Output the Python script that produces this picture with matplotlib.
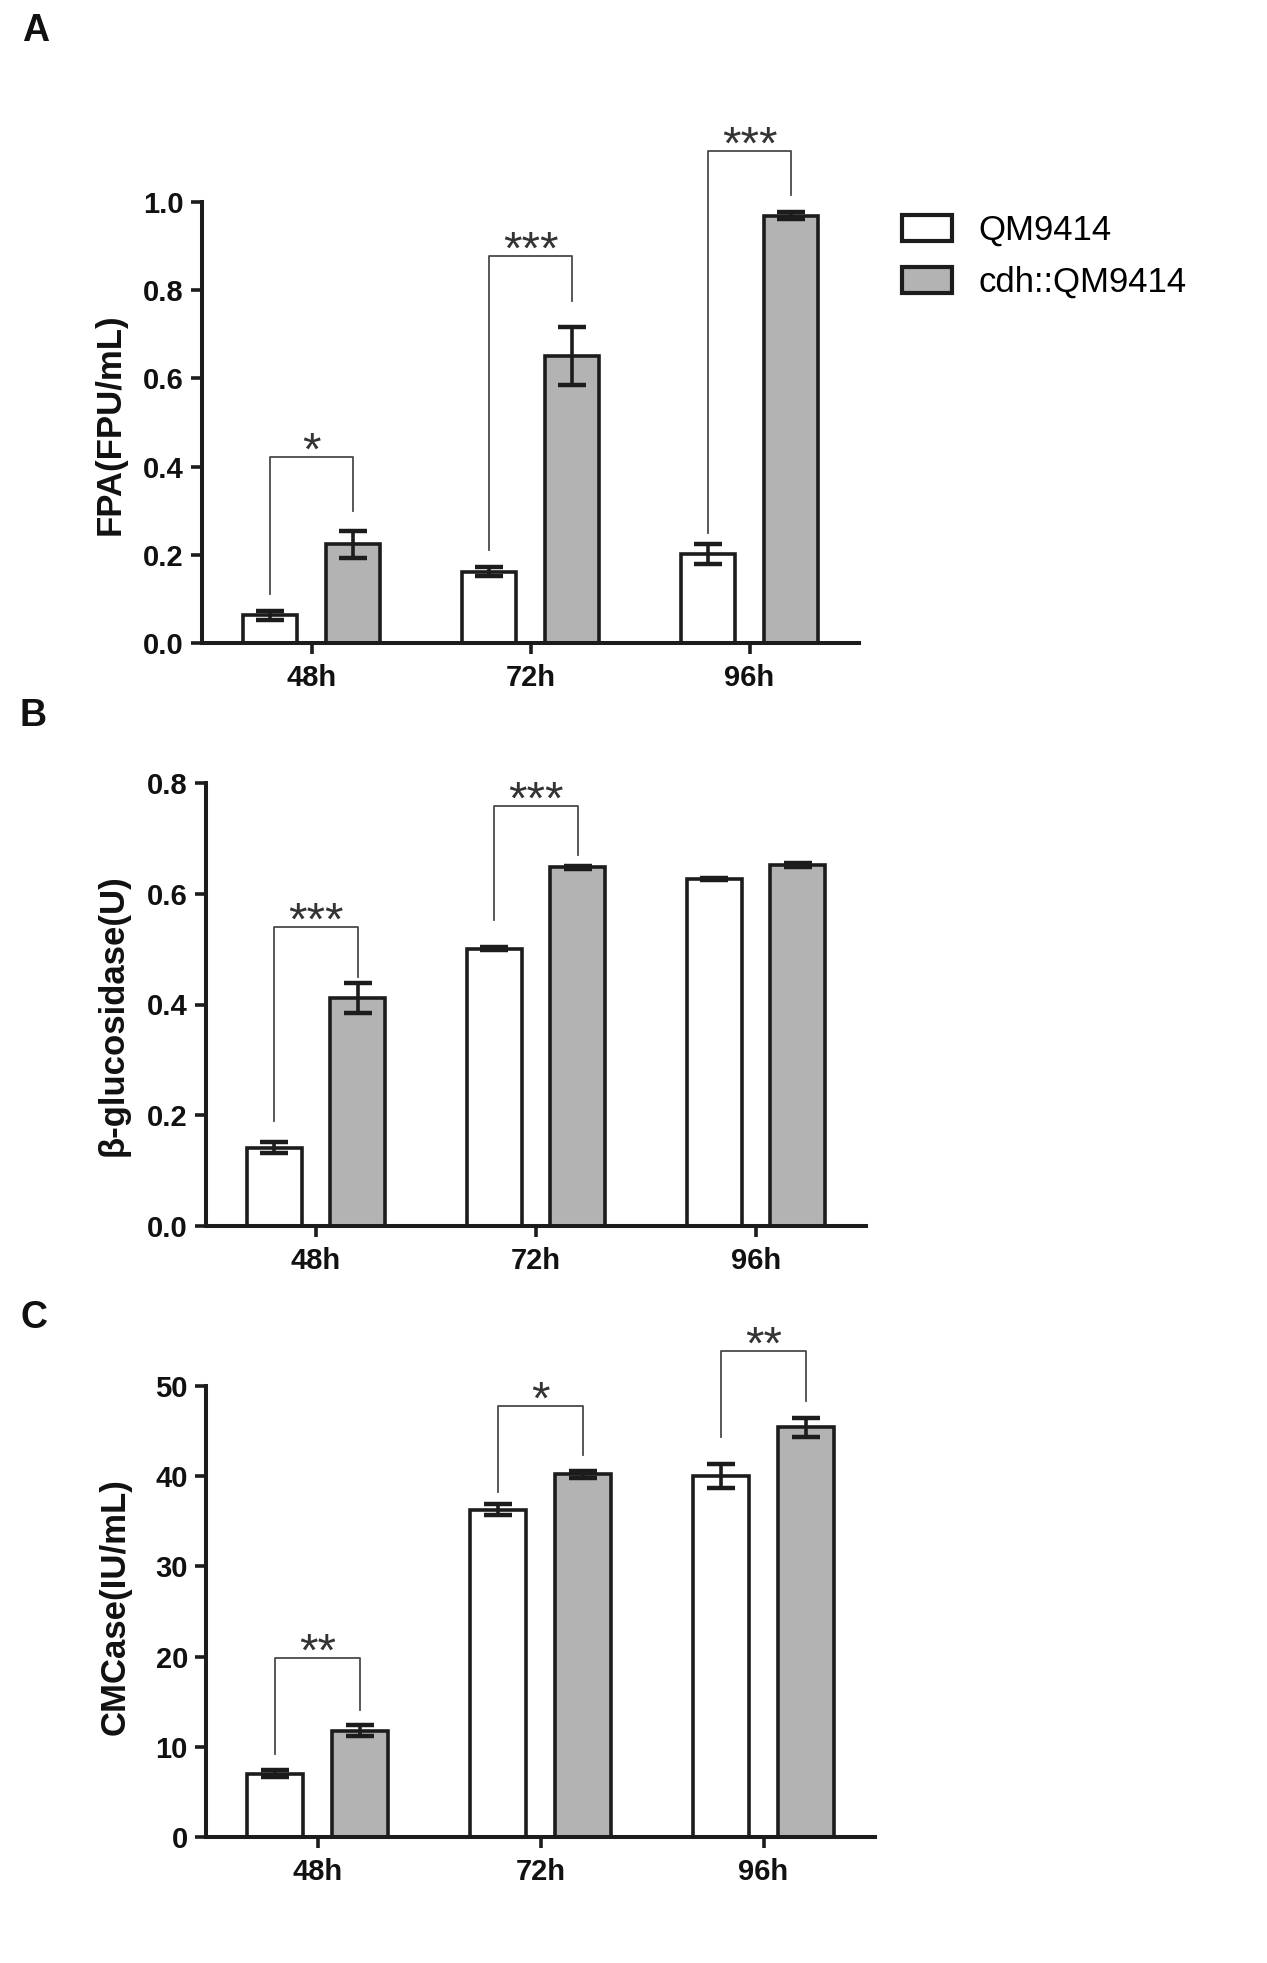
import matplotlib
matplotlib.use('Agg')
import matplotlib.pyplot as plt
import numpy as np
from matplotlib.patches import Patch

plt.rcParams['font.family'] = ['Liberation Sans', 'DejaVu Sans']

W, H, DPI = 1267, 1963, 100

# ---------------- data ----------------
times = ['48h', '72h', '96h']
strains = ['QM9414', 'cdh::QM9414']

fpa_wt = [0.063, 0.162, 0.202]
fpa_wt_err = [0.010, 0.010, 0.023]
fpa_cdh = [0.224, 0.651, 0.969]
fpa_cdh_err = [0.031, 0.065, 0.008]

bgl_wt = [0.141, 0.501, 0.627]
bgl_wt_err = [0.010, 0.002, 0.002]
bgl_cdh = [0.412, 0.648, 0.652]
bgl_cdh_err = [0.027, 0.003, 0.003]

cmc_wt = [7.0, 36.3, 40.0]
cmc_wt_err = [0.4, 0.6, 1.3]
cmc_cdh = [11.8, 40.2, 45.4]
cmc_cdh_err = [0.6, 0.4, 1.1]

# significance marks per time point ('' = none)
fpa_sig = ['*', '***', '***']
fpa_sig_top = [0.422, 0.878, 1.116]
fpa_sig_left_end = [0.11, 0.21, 0.25]
fpa_sig_right_end = [0.30, 0.775, 1.015]

bgl_sig = ['***', '***', '']
bgl_sig_top = [0.540, 0.758, None]
bgl_sig_left_end = [0.19, 0.553, None]
bgl_sig_right_end = [0.45, 0.670, None]

cmc_sig = ['**', '*', '**']
cmc_sig_top = [19.8, 47.8, 53.9]
cmc_sig_left_end = [9.2, 38.2, 44.3]
cmc_sig_right_end = [14.1, 42.3, 48.3]

fpa_yticks = [0.0, 0.2, 0.4, 0.6, 0.8, 1.0]
fpa_yticklabels = ['0.0', '0.2', '0.4', '0.6', '0.8', '1.0']
bgl_yticks = [0.0, 0.2, 0.4, 0.6, 0.8]
bgl_yticklabels = ['0.0', '0.2', '0.4', '0.6', '0.8']
cmc_yticks = [0, 10, 20, 30, 40, 50]
cmc_yticklabels = ['0', '10', '20', '30', '40', '50']

# ---------------- style ----------------
EDGE = '#1c1c1c'
GREY = '#b3b3b3'
BRACKET = '#4a4a4a'
OFF = 0.19
BW = 0.25

fig = plt.figure(figsize=(W / DPI, H / DPI), dpi=DPI)
fig.patch.set_facecolor('white')


def panel(rect_px, wt, wt_err, cdh, cdh_err, ylim, yticks, yticklabels,
          sig, sig_top, sig_l, sig_r):
    l, t, r, b = rect_px
    ax = fig.add_axes([l / W, 1 - b / H, (r - l) / W, (b - t) / H])
    x = np.arange(len(times))
    ax.bar(x - OFF, wt, BW, color='white', edgecolor=EDGE, linewidth=2.6, zorder=2)
    ax.bar(x + OFF, cdh, BW, color=GREY, edgecolor=EDGE, linewidth=2.6, zorder=2)
    ax.errorbar(x - OFF, wt, yerr=wt_err, fmt='none', ecolor=EDGE,
                elinewidth=2.6, capsize=10, capthick=3.2, zorder=3)
    ax.errorbar(x + OFF, cdh, yerr=cdh_err, fmt='none', ecolor=EDGE,
                elinewidth=2.6, capsize=10, capthick=3.2, zorder=3)
    for i, s in enumerate(sig):
        if not s:
            continue
        xl, xr = x[i] - OFF, x[i] + OFF
        ax.plot([xl, xl, xr, xr], [sig_l[i], sig_top[i], sig_top[i], sig_r[i]],
                color=BRACKET, lw=1.3, clip_on=False, zorder=4)
        ax.annotate(s, xy=((xl + xr) / 2, sig_top[i]), xytext=(0, -5.5),
                    textcoords='offset points', ha='center', va='baseline',
                    fontsize=34, color='#333333', annotation_clip=False)
    ax.set_xlim(-0.5, 2.5)
    ax.set_ylim(*ylim)
    ax.set_xticks(x)
    ax.set_xticklabels(times, fontsize=21, fontweight='bold')
    ax.set_yticks(yticks)
    ax.set_yticklabels(yticklabels, fontsize=21, fontweight='bold')
    for sp in ['top', 'right']:
        ax.spines[sp].set_visible(False)
    for sp in ['left', 'bottom']:
        ax.spines[sp].set_linewidth(2.9)
        ax.spines[sp].set_color(EDGE)
    ax.tick_params(axis='both', width=2.6, length=8, color=EDGE, labelcolor='#111111')
    ax.tick_params(axis='y', pad=5)
    ax.tick_params(axis='x', pad=7)
    return ax


axA = panel((202, 202, 859, 643), fpa_wt, fpa_wt_err, fpa_cdh, fpa_cdh_err,
            (0, 1.0), fpa_yticks, fpa_yticklabels,
            fpa_sig, fpa_sig_top, fpa_sig_left_end, fpa_sig_right_end)
axB = panel((206, 783, 866, 1226), bgl_wt, bgl_wt_err, bgl_cdh, bgl_cdh_err,
            (0, 0.8), bgl_yticks, bgl_yticklabels,
            bgl_sig, bgl_sig_top, bgl_sig_left_end, bgl_sig_right_end)
axC = panel((206, 1386, 875, 1837), cmc_wt, cmc_wt_err, cmc_cdh, cmc_cdh_err,
            (0, 50), cmc_yticks, cmc_yticklabels,
            cmc_sig, cmc_sig_top, cmc_sig_left_end, cmc_sig_right_end)

# y labels
for txt, (xp, yp) in [('FPA(FPU/mL)', (110, 424)),
                      ('β-glucosidase(U)', (113, 1015)),
                      ('CMCase(IU/mL)', (115, 1607))]:
    fig.text(xp / W, 1 - yp / H, txt, rotation=90, ha='center', va='center',
             fontsize=25, fontweight='bold', color='#111111')

# panel letters
for txt, (xp, yp) in [('A', (22, 13)), ('B', (20, 698)), ('C', (20, 1300))]:
    fig.text(xp / W, 1 - yp / H, txt, ha='left', va='top',
             fontsize=27, fontweight='bold', color='#111111')

# legend
handles = [Patch(facecolor='white', edgecolor=EDGE, linewidth=3),
           Patch(facecolor=GREY, edgecolor=EDGE, linewidth=3)]
axA.legend(handles, strains, loc='upper left',
           bbox_to_anchor=(902 / W, 1 - 214 / H), bbox_transform=fig.transFigure,
           frameon=False, fontsize=25, handlelength=1.44, handleheight=0.78,
           handletextpad=0.75, labelspacing=0.55, borderpad=0, borderaxespad=0)

fig.savefig('out.png', dpi=DPI, facecolor='white')
